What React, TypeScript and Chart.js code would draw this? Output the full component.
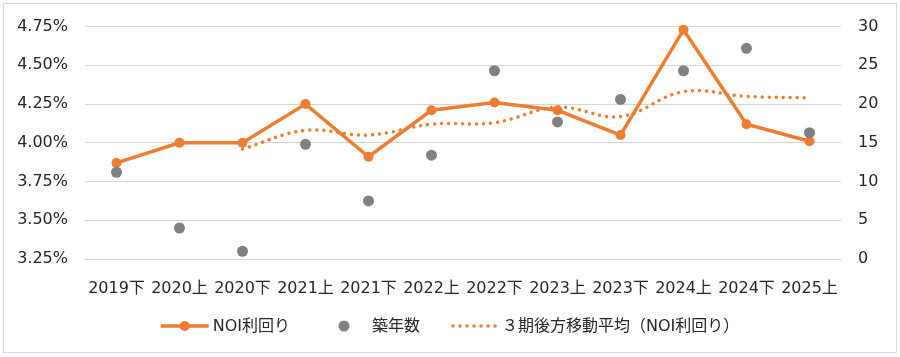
import React, { useEffect, useRef } from "react";
import { Chart, registerables } from "chart.js";

Chart.register(...registerables);

const categories = ["2019下", "2020上", "2020下", "2021上", "2021下", "2022上", "2022下", "2023上", "2023下", "2024上", "2024下", "2025上"];
const noiYield = [3.87, 4.0, 4.0, 4.25, 3.91, 4.21, 4.26, 4.21, 4.05, 4.73, 4.12, 4.01];
const buildingAge = [11.2, 4.0, 1.0, 14.8, 7.5, 13.4, 24.3, 17.7, 20.6, 24.3, 27.2, 16.3];
const movingAvg = [null, null, 3.96, 4.08, 4.05, 4.12, 4.13, 4.23, 4.17, 4.33, 4.3, 4.29];

const leftTicks = { min: 3.25, max: 4.75, step: 0.25 };
const rightTicks = { min: 0, max: 30, step: 5 };

const ORANGE = "#ED7D31";
const GRAY = "#808080";
const FONT = '"DejaVu Sans", "Noto Sans CJK JP", sans-serif';

const legendNames = ["NOI利回り", "築年数", "３期後方移動平均（NOI利回り）"];

const legendPlugin = {
  id: "customLegend",
  afterDraw(chart: any) {
    const ctx = chart.ctx as CanvasRenderingContext2D;
    ctx.save();
    ctx.font = `16px ${FONT}`;
    ctx.textBaseline = "middle";
    ctx.textAlign = "left";
    const symW = 48;
    const gap = 4;
    const spacing = 30;
    const widths = legendNames.map((t) => ctx.measureText(t).width);
    const total = widths.reduce((a, w) => a + symW + gap + w, 0) + spacing * (legendNames.length - 1);
    let x = chart.width / 2 - total / 2;
    const y = 326;
    legendNames.forEach((name, i) => {
      if (i === 0) {
        ctx.strokeStyle = ORANGE;
        ctx.lineWidth = 3.5;
        ctx.beginPath();
        ctx.moveTo(x, y);
        ctx.lineTo(x + symW, y);
        ctx.stroke();
        ctx.fillStyle = ORANGE;
        ctx.beginPath();
        ctx.arc(x + symW / 2, y, 5, 0, Math.PI * 2);
        ctx.fill();
      } else if (i === 1) {
        ctx.fillStyle = GRAY;
        ctx.beginPath();
        ctx.arc(x + symW / 2, y, 5.5, 0, Math.PI * 2);
        ctx.fill();
      } else {
        ctx.strokeStyle = ORANGE;
        ctx.lineWidth = 3.5;
        ctx.lineCap = "round";
        ctx.setLineDash([0.01, 7]);
        ctx.beginPath();
        ctx.moveTo(x + 3, y);
        ctx.lineTo(x + symW, y);
        ctx.stroke();
        ctx.setLineDash([]);
      }
      ctx.fillStyle = "#262626";
      ctx.fillText(name, x + symW + gap, y + 1);
      x += symW + gap + widths[i] + spacing;
    });
    ctx.restore();
  },
};

export default function App() {
  const canvasRef = useRef<HTMLCanvasElement | null>(null);

  useEffect(() => {
    if (!canvasRef.current) return;
    const chart = new Chart(canvasRef.current, {
      type: "line",
      data: {
        labels: categories,
        datasets: [
          {
            label: legendNames[0],
            data: noiYield,
            yAxisID: "y",
            borderColor: ORANGE,
            backgroundColor: ORANGE,
            borderWidth: 3.5,
            pointRadius: 5,
            pointBackgroundColor: ORANGE,
            pointBorderWidth: 0,
            tension: 0,
            clip: false,
            order: 1,
          },
          {
            label: legendNames[1],
            data: buildingAge,
            yAxisID: "y1",
            showLine: false,
            borderColor: GRAY,
            backgroundColor: GRAY,
            pointRadius: 5.5,
            pointBackgroundColor: GRAY,
            pointBorderWidth: 0,
            clip: false,
            order: 0,
          },
          {
            label: legendNames[2],
            data: movingAvg,
            yAxisID: "y",
            borderColor: ORANGE,
            borderWidth: 3.5,
            borderDash: [0.01, 7],
            borderCapStyle: "round",
            pointRadius: 0,
            tension: 0.4,
            clip: false,
            order: 2,
          },
        ],
      } as any,
      options: {
        animation: false,
        responsive: false,
        maintainAspectRatio: false,
        layout: { padding: { top: 24, left: 0, right: 0, bottom: 0 } },
        plugins: {
          legend: { display: false },
          tooltip: { enabled: false },
        },
        scales: {
          x: {
            offset: true,
            grid: { display: false },
            border: { display: false },
            ticks: { color: "#262626", font: { size: 16, family: FONT }, padding: 12, maxRotation: 0, autoSkip: false },
            afterFit: (s: any) => {
              s.height = 98;
            },
          },
          y: {
            position: "left",
            min: leftTicks.min,
            max: leftTicks.max,
            grid: { color: "#d4d4d4", lineWidth: 1, drawTicks: false },
            border: { display: false },
            ticks: {
              stepSize: leftTicks.step,
              color: "#262626",
              font: { size: 16, family: FONT },
              padding: 17,
              callback: (v: any) => `${Number(v).toFixed(2)}%`,
            },
            afterFit: (s: any) => {
              s.width = 85;
            },
          },
          y1: {
            position: "right",
            min: rightTicks.min,
            max: rightTicks.max,
            grid: { display: false, drawTicks: false },
            border: { display: false },
            ticks: {
              stepSize: rightTicks.step,
              color: "#262626",
              font: { size: 16, family: FONT },
              padding: 17,
            },
            afterFit: (s: any) => {
              s.width = 59;
            },
          },
        },
      } as any,
      plugins: [legendPlugin],
    });
    return () => chart.destroy();
  }, []);

  return (
    <div style={{ position: "fixed", left: 0, top: 0, width: 900, height: 357, background: "#fff" }}>
      <div
        style={{
          position: "absolute",
          left: 3,
          top: 3,
          width: 892,
          height: 348,
          border: "1px solid #d9d9d9",
          boxSizing: "content-box",
        }}
      />
      <canvas ref={canvasRef} width={900} height={357} style={{ position: "absolute", left: 0, top: 0, width: 900, height: 357 }} />
    </div>
  );
}
